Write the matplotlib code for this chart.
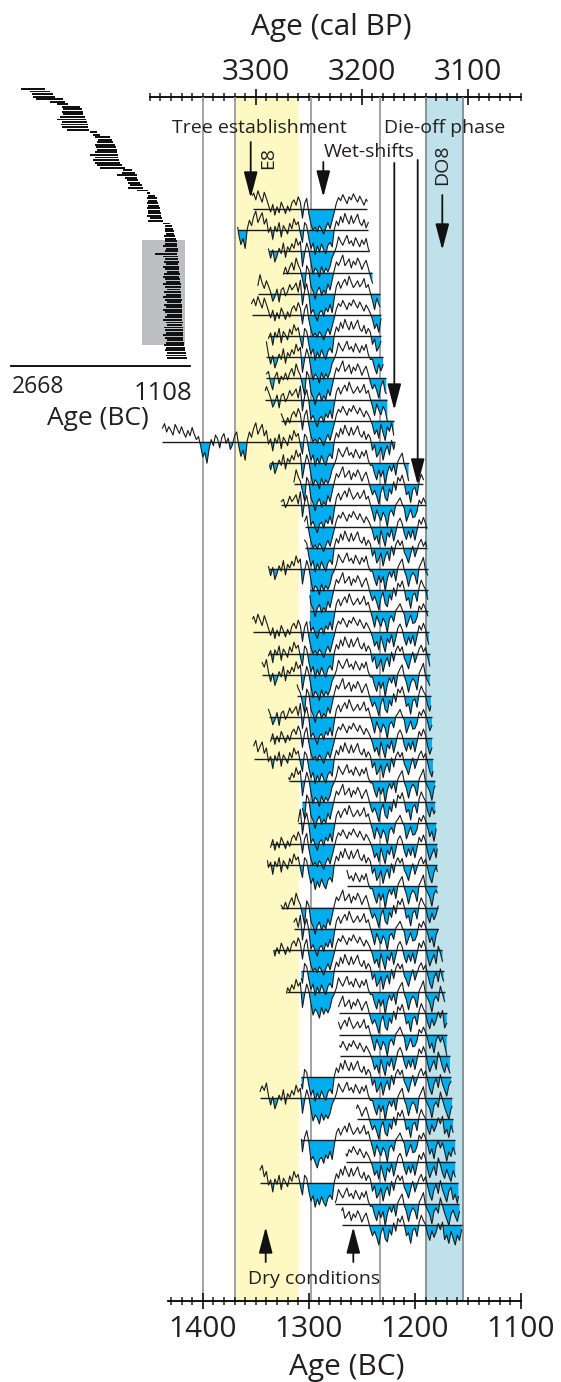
import numpy as np
import matplotlib
matplotlib.use('Agg')
import matplotlib.pyplot as plt
from matplotlib.patches import Rectangle

# ---------------- data ----------------
# chronology years (BC), 2-year steps
chron_years = np.arange(1440, 1153, -2)
chron_A = [1.5, 2.2, 1.8, 2.5, 1.2, 1.9, 2.8, 1.6, 1.0, 2.1, 1.4, 0.8, 1.7, 2.6, 1.3, 0.9, 0.4, 1.1, 0.5, -0.3,
           -1.2, -2.5, -3.0, -1.8, -0.5, 0.6, 0.2, -0.4, 0.8, 0.1, -0.6, 0.5, -0.2, 0.7, -1.5, -0.3, 0.4, 1.0, 0.3, -2.2,
           -3.2, -1.0, 0.8, 1.5, 2.1, 1.2, 2.4, 1.6, 0.9, 2.2, 1.4, 0.5, -0.4, 0.6, -0.8, 0.3, -0.5, 0.9, 0.2, -0.6,
           0.4, -0.3, 0.8, 1.2, 0.5, 1.6, 0.9, -1.2, 0.7, 1.4, -0.6, -2.0, -2.8, -2.4, -3.0, -2.2, -2.7, -3.3, -2.5, -1.8,
           -2.6, -1.5, -0.4, 0.8, 1.5, 1.1, 1.9, 1.3, 0.7, 1.6, 1.2, 2.0, 1.4, 0.9, 1.7, 1.1, 0.5, 1.3, 0.8, 0.2,
           -0.6, -1.8, -1.2, -2.3, -0.5, -1.6, -2.6, -0.8, -1.4, -0.3, -1.9, -0.7, 0.6, 1.1, 0.4, -0.9, -1.7, -0.6, -1.5, -0.4,
           -1.8, -0.5, 0.9, 0.3, 1.2, 0.4, -1.0, -2.1, -1.3, -0.6, -1.8, 0.5, -0.4, -1.5, -2.2, -1.0, -1.9, -2.6, -1.2, -2.0, -0.7, -1.6, -2.4, -1.1]
chron_B = [1.0, 1.8, 2.4, 1.3, 2.0, 1.5, 0.9, 2.3, 1.7, 1.1, 2.0, 1.2, 0.6, 1.5, 0.8, 1.9, 1.0, 0.3, 0.7, -0.5,
           -2.0, -1.4, -2.8, -0.9, 0.3, -0.5, 0.9, 0.4, -0.8, 0.6, 1.1, -0.2, 0.5, -1.0, -0.4, 0.8, 1.3, -0.6, -1.9, -1.1,
           -2.4, 0.2, 1.3, 0.6, 1.8, 2.5, 1.0, 1.7, 2.3, 0.8, 1.5, -0.3, 0.4, -1.2, 0.5, -0.2, 1.0, -0.9, 0.6, 0.1,
           -0.5, 0.9, 0.2, 1.5, 0.7, 1.1, -0.4, -1.6, 1.0, 0.6, -1.1, -2.4, -1.7, -3.2, -2.1, -2.9, -1.8, -2.6, -3.1, -2.0,
           -1.6, -2.2, 0.1, 1.2, 0.6, 1.8, 1.0, 2.2, 1.4, 0.8, 1.9, 0.9, 1.5, 2.1, 1.0, 0.6, 1.4, 0.3, 1.0, 0.5,
           -1.1, -0.4, -2.0, -1.5, -0.7, -2.4, -1.2, -0.5, -1.7, 0.2, -1.0, 0.4, 1.0, 0.3, 0.9, -0.6, -1.2, -2.0, -0.8, 0.2,
           -1.2, -0.3, 0.6, 1.1, 0.2, 0.8, -0.4, -1.6, -2.3, -0.9, -0.2, -1.4, 0.3, -0.9, -1.7, -2.5, -1.1, -0.6, -2.2, -1.5, -2.7, -0.9, -1.8, -2.2]
chron_C = [2.0, 1.4, 2.6, 1.9, 1.1, 2.2, 1.5, 0.8, 1.8, 2.5, 1.0, 1.6, 2.0, 0.7, 1.4, 0.6, 1.2, 0.2, -0.2, 0.4,
           -0.8, -2.2, -1.5, -2.6, -0.3, 0.4, -0.7, 0.3, 1.0, -0.4, 0.2, 0.7, -0.6, 0.4, -1.9, 0.1, 0.9, 0.4, -0.8, -2.6,
           -2.0, -3.4, 0.3, 1.8, 1.1, 1.9, 2.6, 0.9, 1.6, 1.0, 2.0, 0.3, -0.9, 0.2, -1.4, -0.6, 0.4, -0.3, 1.1, -0.8,
           0.6, 0.1, 1.0, 0.4, 1.7, 0.8, 1.3, -2.0, -0.3, 1.1, 0.2, -1.5, -3.0, -2.2, -2.6, -3.4, -2.0, -2.9, -2.2, -2.7,
           -2.0, -0.8, -0.2, 0.6, 1.9, 1.3, 0.8, 1.5, 2.1, 1.0, 1.4, 0.7, 1.8, 1.2, 0.6, 1.5, 0.9, 1.7, 0.4, -0.3,
           -0.3, -1.4, -2.2, -0.9, -1.8, -1.0, -2.9, -1.3, -0.4, -1.1, -0.2, -1.6, 0.2, 0.8, 1.3, -0.2, -1.0, -2.3, -1.1, -0.5,
           -0.9, -2.0, 0.2, 0.8, 1.5, -0.2, -0.8, -1.4, -2.6, -1.0, -0.5, -1.2, 0.8, -0.2, -1.2, -2.0, -2.8, -1.4, -0.8, -1.6, -2.3, -1.0, -2.8, -1.7]
chron_D = [0.8, 1.6, 2.1, 1.4, 0.7, 1.8, 2.3, 1.1, 1.6, 0.9, 2.0, 1.5, 1.0, 1.8, 1.2, 0.5, 1.4, 0.6, -0.1, 0.3,
           -1.6, -2.9, -1.1, -2.0, 0.1, 0.7, -0.2, 0.5, -0.5, 0.9, 0.0, -1.2, 0.3, 0.8, -0.6, -1.4, 0.6, 0.2, -1.2, -1.8,
           -2.8, -1.5, 0.5, 1.9, 1.3, 0.7, 1.6, 2.2, 1.1, 1.8, 0.6, 0.9, -0.6, -1.5, 0.2, 0.8, -0.7, 0.3, -0.2, 0.7,
           -0.2, 0.7, 1.3, 0.3, 1.9, 1.0, 0.4, -0.9, -2.2, 0.9, 0.3, -1.8, -2.5, -3.5, -2.4, -1.9, -3.0, -2.3, -2.8, -1.5,
           -2.3, -1.0, 0.3, 1.4, 0.9, 1.6, 2.3, 0.9, 1.3, 1.8, 0.6, 1.5, 1.0, 1.9, 1.3, 0.4, 1.1, 1.6, 0.6, -0.5,
           -1.4, -0.8, -1.6, -2.6, -1.0, -0.3, -1.8, -2.2, -0.6, -1.3, 0.3, -0.8, 0.9, 0.4, 1.2, 0.1, -1.4, -1.0, -2.4, -0.7,
           -0.4, -1.5, 0.4, 1.3, 0.6, 0.1, -1.2, -2.0, -0.7, -1.6, -0.9, 0.2, -0.6, 0.4, -1.9, -1.3, -2.4, -0.8, -1.7, -2.6, -1.3, -2.0, -0.6, -2.5]
chron_E = [1.7, 1.0, 2.2, 2.7, 1.5, 0.9, 1.3, 2.0, 2.4, 1.2, 0.8, 1.9, 1.1, 2.2, 0.9, 1.3, 0.2, 0.8, 0.1, -0.8,
           -2.3, -1.0, -2.1, -1.4, -0.1, 0.8, 0.3, -0.9, 0.2, 0.6, -0.3, 0.9, 0.4, -0.5, -1.1, 0.5, -0.2, 0.7, 0.1, -1.5,
           -2.9, -2.0, 1.0, 0.4, 2.0, 1.6, 1.1, 2.5, 1.4, 0.7, 1.7, 1.0, 0.2, -1.0, -0.4, 0.6, -1.1, 0.5, 0.8, -0.3,
           0.3, 1.2, 0.5, 0.9, 1.4, 0.2, 1.8, -1.5, 0.4, 1.3, -0.2, -2.6, -2.1, -2.9, -3.6, -2.5, -2.2, -3.0, -1.9, -2.4,
           -1.4, -2.5, -0.6, 1.0, 1.6, 0.7, 1.4, 1.9, 1.1, 2.3, 1.5, 0.8, 1.2, 1.7, 0.9, 1.3, 2.0, 0.8, 1.2, 0.1,
           -0.9, -2.1, -0.6, -1.4, -2.0, -0.9, -1.5, -2.8, -1.0, -0.6, -1.4, 0.1, 0.5, 1.0, 0.2, -0.4, -2.1, -1.3, -0.5, -1.6,
           -1.5, -0.8, 0.7, 0.2, 1.0, 0.3, -0.6, -1.8, -1.1, -2.4, -0.8, -0.1, -1.0, -0.3, -1.4, -2.7, -1.5, -2.1, -0.9, -1.8, -2.5, -1.3, -2.1, -0.8]

# series start / end (BC), top to bottom
series_start = [1353, 1367, 1338, 1324, 1348, 1354, 1338, 1340, 1340, 1341, 1326, 1438, 1337, 1314, 1326, 1304,
                1304, 1338, 1299, 1299, 1353, 1338, 1344, 1311, 1338, 1336, 1352, 1319, 1306, 1310, 1336, 1339,
                1264, 1326, 1314, 1333, 1307, 1321, 1272, 1272, 1271, 1307, 1346, 1255, 1307, 1265, 1346, 1275, 1269]
series_end = [1245, 1244, 1243, 1240, 1233, 1232, 1232, 1230, 1227, 1226, 1220, 1219, 1206, 1192, 1190, 1189,
              1189, 1188, 1188, 1188, 1187, 1186, 1186, 1185, 1184, 1184, 1183, 1181, 1181, 1180, 1179, 1179,
              1179, 1178, 1178, 1174, 1173, 1172, 1170, 1170, 1167, 1166, 1165, 1164, 1162, 1162, 1159, 1158, 1156]

# inset: all tree series (start, end BC)
inset_start = [2584, 2502, 2488, 2473, 2450, 2328, 2270, 2226, 2212, 2226, 2212, 2241, 2270, 2226, 2235, 2226, 2183,
               1980, 1951, 1936, 1907, 1921, 1936, 1927, 1921, 1936, 1980, 1936, 1951, 1936, 1921, 1892,
               1689, 1704, 1747, 1675, 1660, 1646, 1631, 1646, 1573, 1486, 1471, 1486, 1471, 1486, 1471, 1486,
               1471, 1471, 1486, 1457, 1471, 1341, 1326, 1326, 1326, 1317, 1335, 1326, 1326, 1326, 1341, 1317,
               1326, 1413, 1341, 1326, 1335, 1317, 1341, 1326, 1311, 1335, 1346, 1326, 1317, 1341, 1326, 1311,
               1335, 1320, 1346, 1326, 1311, 1335, 1320, 1341, 1326, 1311, 1330, 1346, 1320, 1311, 1335, 1326,
               1317, 1341, 1326, 1311, 1320, 1335, 1317, 1326, 1311, 1320, 1306]
inset_end = [2372, 2328, 2299, 2285, 2212, 2197, 2168, 2067, 2052, 2043, 2038, 2023, 2014, 2003, 1994, 1994, 1985,
             1921, 1892, 1805, 1791, 1776, 1762, 1753, 1747, 1741, 1733, 1733, 1724, 1718, 1704, 1675,
             1617, 1587, 1573, 1567, 1558, 1544, 1529, 1515, 1471, 1457, 1413, 1399, 1393, 1384, 1375, 1370,
             1370, 1364, 1361, 1355, 1346, 1282, 1268, 1253, 1248, 1248, 1239, 1233, 1224, 1224, 1219, 1216,
             1210, 1224, 1210, 1210, 1205, 1210, 1200, 1205, 1200, 1195, 1200, 1195, 1195, 1190, 1190, 1195,
             1186, 1190, 1186, 1181, 1186, 1181, 1181, 1178, 1178, 1181, 1175, 1175, 1172, 1175, 1172, 1172,
             1168, 1168, 1165, 1165, 1160, 1160, 1155, 1150, 1145, 1140, 1137]

# ---------------- figure ----------------
W, H = 561, 1382
DPI = 100
plt.rcParams['font.family'] = ['Open Sans', 'DejaVu Sans']
fig = plt.figure(figsize=(W / DPI, H / DPI), dpi=DPI)


def fx(px):
    return px / W


def fy(py):
    return 1 - py / H


AX_L, AX_R, AX_T, AX_B = 149.7, 521.0, 97.0, 1300.7
ax = fig.add_axes([fx(AX_L), fy(AX_B), (AX_R - AX_L) / W, (AX_B - AX_T) / H])
ax.set_xlim(1450, 1100)
ax.set_ylim(AX_B, AX_T)

YELLOW = '#FEF8C2'
BLUEBAND = '#BFE1EA'
CYAN = '#00AEEF'
GRAY = '#9C9C9C'

ax.axvspan(1369.5, 1309.4, color=YELLOW, lw=0, zorder=0)
ax.axvspan(1190, 1154.5, color=BLUEBAND, lw=0, zorder=0)
for xv, c in [(1400, GRAY), (1369.5, GRAY), (1297.5, GRAY), (1233, GRAY), (1190, '#7F8C90'), (1154.5, '#7F8C90')]:
    ax.axvline(xv, color=c, lw=1.3, zorder=0.5)

yrs_rev = chron_years[::-1]
chrons = [np.array(c) for c in (chron_A, chron_B, chron_C, chron_D, chron_E)]
ROW0, ROWSTEP, SCALE = 209.0, 21.17, 7.6
for i, (s, e) in enumerate(zip(series_start, series_end)):
    base = ROW0 + i * ROWSTEP
    z = chrons[i % len(chrons)]
    inner = chron_years[(chron_years < s) & (chron_years > e)]
    xs = np.concatenate([[s], inner, [e]]).astype(float)
    zs = np.interp(xs, yrs_rev, z[::-1])
    ys = base - zs * SCALE
    ax.fill_between(xs, base, ys, where=ys > base, interpolate=True, color=CYAN, lw=0, zorder=2)
    ax.plot(xs, ys, color='#1a1a1a', lw=0.8, zorder=3)
    ax.hlines(base, s, e, color='#1a1a1a', lw=1.0, zorder=3)

# axes styling
for sp in ['left', 'right', 'top']:
    ax.spines[sp].set_visible(False)
ax.spines['bottom'].set_bounds(1433, 1100)
ax.spines['bottom'].set_linewidth(1.3)
ax.set_yticks([])
ax.set_xticks([1400, 1300, 1200, 1100])
ax.set_xticks(np.arange(1430, 1099, -10), minor=True)
ax.tick_params(axis='x', which='major', direction='inout', length=11, width=1.3, labelsize=21.5, pad=4.5, colors='#231f20')
ax.tick_params(axis='x', which='minor', direction='inout', length=5.5, width=1.1, colors='#231f20')

sec = ax.secondary_xaxis('top', functions=(lambda x: x + 1950, lambda x: x - 1950))
sec.set_xticks([3300, 3200, 3100])
sec.set_xticks(np.arange(3400, 3049, -10), minor=True)
sec.spines['top'].set_linewidth(1.3)
sec.tick_params(axis='x', which='major', direction='inout', length=11, width=1.3, labelsize=21.5, pad=2, colors='#231f20')
sec.tick_params(axis='x', which='minor', direction='inout', length=5.5, width=1.1, colors='#231f20')

TXT = '#231f20'
fig.text(fx(331), fy(35), 'Age (cal BP)', ha='center', va='baseline', fontsize=21.5, color=TXT)
fig.text(fx(347), fy(1375), 'Age (BC)', ha='center', va='baseline', fontsize=21.5, color=TXT)

# annotations
fig.text(fx(259), fy(133), 'Tree establishment', ha='center', va='baseline', fontsize=14, color=TXT)
fig.text(fx(445), fy(133), 'Die-off phase', ha='center', va='baseline', fontsize=14, color=TXT)
fig.text(fx(369), fy(157), 'Wet-shifts', ha='center', va='baseline', fontsize=14, color=TXT)
fig.text(fx(268), fy(158), 'E8', ha='center', va='center', rotation=90, fontsize=14, color=TXT)
fig.text(fx(442), fy(165), 'DO8', ha='center', va='center', rotation=90, fontsize=14, color=TXT)
fig.text(fx(314), fy(1284), 'Dry conditions', ha='center', va='baseline', fontsize=14, color=TXT)


def arrow(x0, y0, x1, y1):
    ax.annotate('', xy=(fx(x1), fy(y1)), xytext=(fx(x0), fy(y0)),
                xycoords='figure fraction', textcoords='figure fraction',
                arrowprops=dict(arrowstyle='-|>,head_length=1.6,head_width=0.42', mutation_scale=10,
                                lw=1.3, color='#111111', shrinkA=0, shrinkB=0), zorder=6)


arrow(250.7, 142, 250.7, 198)
arrow(323.3, 162, 323.3, 197)
arrow(394.3, 163, 394.3, 410)
arrow(417.7, 160, 417.7, 485)
arrow(442.3, 195, 442.3, 250)
arrow(265.7, 1262, 265.7, 1227)
arrow(353.3, 1262, 353.3, 1227)

# ---------------- inset ----------------
IL, IR, IT, IB = 11.0, 190.0, 85.0, 366.0
ax2 = fig.add_axes([fx(IL), fy(IB), (IR - IL) / W, (IB - IT) / H])
ax2.set_xlim(2668, 1108)
ax2.set_ylim(IB, IT)
ax2.add_patch(Rectangle((1529, 240), 1152 - 1529, 105, facecolor='#BCBEC0', edgecolor='none', zorder=0))
n = len(inset_start)
ys_in = 89 + np.arange(n) * (358 - 89) / (n - 1)
ax2.barh(ys_in, np.array(inset_start) - np.array(inset_end), left=inset_end, height=1.9,
         color='#111111', zorder=2)
for sp in ['left', 'right', 'top']:
    ax2.spines[sp].set_visible(False)
ax2.spines['bottom'].set_linewidth(1.3)
ax2.set_xticks([])
ax2.set_yticks([])
ax2.patch.set_alpha(0)
fig.text(fx(12), fy(393), '2668', ha='left', va='baseline', fontsize=16.5, color=TXT)
fig.text(fx(192), fy(400), '1108', ha='right', va='baseline', fontsize=18.5, color=TXT)
fig.text(fx(98), fy(425), 'Age (BC)', ha='center', va='baseline', fontsize=19, color=TXT)

fig.savefig('out.png', dpi=DPI)
